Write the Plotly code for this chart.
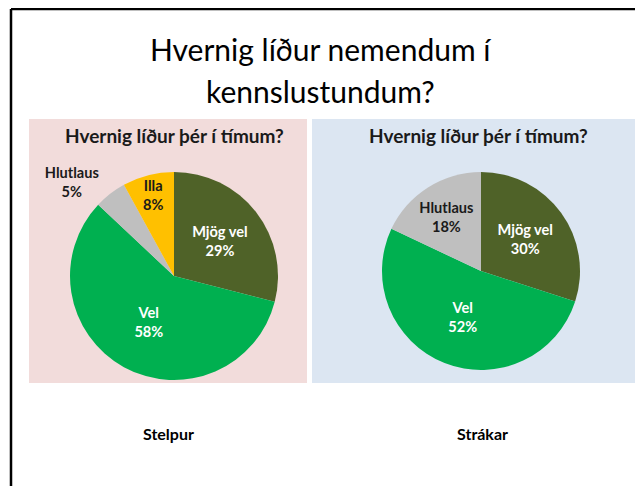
import plotly.graph_objects as go

# The page body has an 8px margin, so the figure is offset by 8px in the window.
OFF = 8
W, H = 643 - OFF, 486 - OFF

title_lines = ["Hvernig líður nemendum í", "kennslustundum?"]
pie_title = "Hvernig líður þér í tímum?"

girls_labels = ["Mjög vel", "Vel", "Hlutlaus", "Illa"]
girls_values = [29, 58, 5, 8]
boys_labels = ["Mjög vel", "Vel", "Hlutlaus"]
boys_values = [30, 52, 18]
group_names = ["Stelpur", "Strákar"]

color_map = {"Mjög vel": "#4F6228", "Vel": "#00B050", "Hlutlaus": "#BFBFBF", "Illa": "#FFC000"}
text_color_map = {"Mjög vel": "white", "Vel": "white", "Hlutlaus": "#1a1a1a", "Illa": "#1a1a1a"}

FONT = "Lato"


def px(x):
    return (x - OFF) / W


def py(y):
    return 1 - (y - OFF) / H


fig = go.Figure()


def add_pie(labels, values, cx, cy, r, textpos):
    fig.add_trace(go.Pie(
        labels=labels, values=values, sort=False, direction="clockwise", rotation=0,
        marker=dict(colors=[color_map[l] for l in labels], line=dict(width=0)),
        texttemplate="<b>%{label}<br>%{value}%</b>",
        textposition=textpos,
        insidetextorientation="horizontal",
        textfont=dict(family=FONT, size=15.5, color=[text_color_map[l] for l in labels]),
        showlegend=False, hoverinfo="label+percent",
        domain=dict(x=[px(cx - r), px(cx + r)], y=[py(cy + r), py(cy - r)]),
    ))


add_pie(girls_labels, girls_values, 174, 276, 104, ["inside", "inside", "outside", "inside"])
add_pie(boys_labels, boys_values, 481, 271, 99, "inside")

shapes = [
    dict(type="rect", xref="paper", yref="paper", x0=px(29), x1=px(307), y0=py(383), y1=py(119),
         fillcolor="#F2DCDB", line=dict(width=0), layer="below"),
    dict(type="rect", xref="paper", yref="paper", x0=px(312), x1=px(639), y0=py(383), y1=py(119),
         fillcolor="#DCE6F2", line=dict(width=0), layer="below"),
    dict(type="line", xref="paper", yref="paper", x0=px(11), x1=px(11), y0=py(9), y1=0,
         line=dict(color="black", width=2.5)),
    dict(type="line", xref="paper", yref="paper", x0=px(11), x1=1, y0=py(9), y1=py(9),
         line=dict(color="black", width=2.5)),
]


def ann(text, x, y, size, color="black"):
    return dict(text=text, x=px(x), y=py(y), xref="paper", yref="paper", showarrow=False,
                xanchor="center", yanchor="middle",
                font=dict(family=FONT, size=size, color=color))


annotations = [
    ann(title_lines[0], 321, 49, 30),
    ann(title_lines[1], 320, 91, 30),
    ann("<b>" + pie_title + "</b>", 174, 135, 19, "#1a1a1a"),
    ann("<b>" + pie_title + "</b>", 478, 135, 19, "#1a1a1a"),
    ann("<b>" + group_names[0] + "</b>", 168, 433, 16),
    ann("<b>" + group_names[1] + "</b>", 482, 433, 16),
]

fig.update_layout(
    width=W, height=H, margin=dict(l=0, r=0, t=0, b=0),
    paper_bgcolor="white", plot_bgcolor="white",
    shapes=shapes, annotations=annotations,
    uniformtext=dict(minsize=12, mode="show"),
)

fig.write_html("out.html")
